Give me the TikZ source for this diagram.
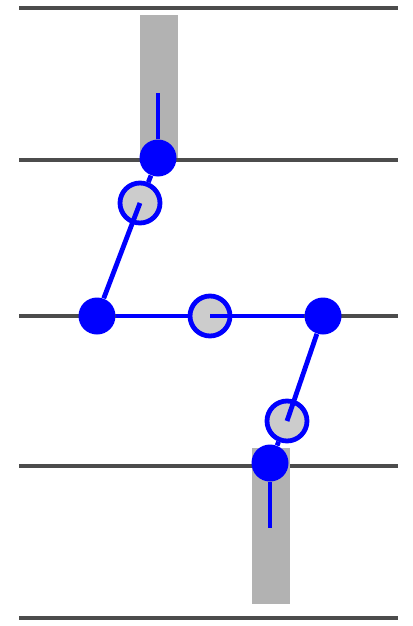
\documentclass[tikz,border=0pt]{standalone}
\usepackage{tikz}
\usetikzlibrary{backgrounds}

\begin{document}
\begin{tikzpicture}[
  x=0.5pt, y=-0.5pt,
  atom/.style={circle, fill=blue, inner sep=0pt, minimum size=18.5pt},
  link/.style={circle, draw=blue, fill=black!20, line width=2.4pt, inner sep=0pt, minimum size=20pt},
  bond/.style={draw=blue, line width=2.4pt},
  level/.style={draw=black!70, line width=2pt},
  slot/.style={fill=black!30}
]
\useasboundingbox (0,0) rectangle (412,626);

\node[atom] (a) at (158,158) {};
\node[link] (b) at (140,203) {};
\node[atom] (c) at (97,316) {};
\node[link] (d) at (210,316) {};
\node[atom] (e) at (323,316) {};
\node[link] (f) at (287,421) {};
\node[atom] (g) at (270,463) {};
\coordinate (top) at (158,93);
\coordinate (bottom) at (270,528);

\draw[bond] (b.center) -- (c);
\draw[bond] (d.center) -- (e);
\draw[bond] (e) -- (f.center);
\draw[bond] (a) -- (top);
\draw[bond] (g) -- (bottom);

\begin{scope}[on background layer]
  \foreach \y in {8,160,316,466,618}
    \draw[level] (19,\y) -- (398,\y);
  \fill[slot] (140,15) rectangle (178,158);
  \fill[slot] (252,448) rectangle (290,604);
  \draw[bond] (a) -- (b);
  \draw[bond] (c) -- (d);
  \draw[bond] (f) -- (g);
\end{scope}
\end{tikzpicture}
\end{document}
